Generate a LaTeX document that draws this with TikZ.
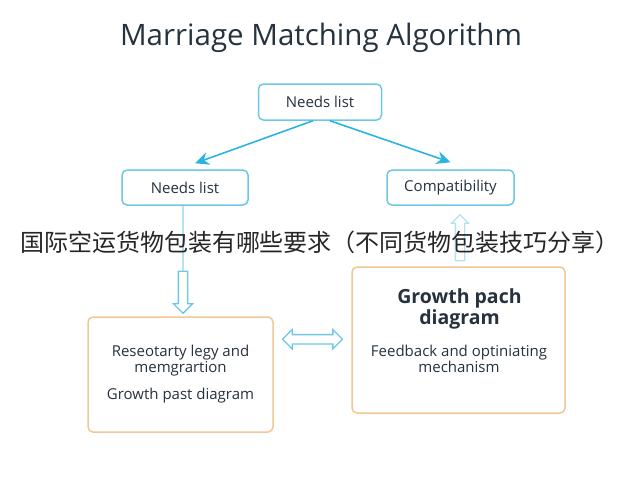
\documentclass[tikz,border=0pt]{standalone}
\usepackage{fontspec}
\setmainfont{Open Sans}
\newfontfamily\cjkfont{Noto Sans CJK SC}
\usetikzlibrary{arrows.meta, positioning, shapes.arrows, calc}
\definecolor{ccyan}{HTML}{6CC8E4}
\definecolor{carrow}{HTML}{2CB4E0}
\definecolor{cpale}{HTML}{B5E2F0}
\definecolor{corange}{HTML}{F2C796}
\definecolor{cink}{HTML}{26323D}
\tikzset{
  every picture/.style={line width=1.5pt},
  box/.style={draw=#1, fill=white, rounded corners=5pt, align=center, inner sep=0pt, text=cink},
  box/.default=ccyan,
  arrow/.style={-{Stealth[length=14pt, width=13pt]}, draw=carrow, line width=1.6pt},
  hollow/.style={draw=#1, fill=white, line width=1.3pt, single arrow, single arrow head extend=5pt, inner xsep=0pt, inner ysep=4pt},
  hollow/.default=ccyan,
  txt/.style={font=\fontsize{15}{16}\selectfont, text=cink, align=center},
}

\begin{document}
\begin{tikzpicture}[x=1pt, y=-1pt]
  \useasboundingbox (0,0) rectangle (640,480);
  \node[font=\fontsize{29.5}{34}\selectfont, text=cink] (title) at (321,38) {Marriage Matching Algorithm};
  \node[box, minimum width=123pt, minimum height=36pt, txt] (top) at (320,102) {Needs list};
  \node[box, minimum width=126pt, minimum height=35pt, txt] (needs) at (185,187.5) {Needs list};
  \node[box, minimum width=127pt, minimum height=35pt, txt] (compat) at (450.5,187.5) {Compatibility};
  \draw[arrow] ([xshift=-7pt]top.south) -- ([xshift=10pt, yshift=6pt]needs.north);
  \draw[arrow] ([xshift=10pt]top.south) -- ([yshift=7pt]compat.north);
  % hollow arrows
  \node[hollow, rotate=-90, minimum height=42pt] (down) at (183,290) {};
  \draw[cpale] ([xshift=-2pt]needs.south) -- (down.tail);
  \node[hollow=cpale, rotate=90, minimum height=46pt, single arrow head extend=4pt] (up) at (460,240) {};
  \node[font=\cjkfont\fontsize{24}{28}\selectfont, text=black!85] (banner) at (320,242) {国际空运货物包装有哪些要求（不同货物包装技巧分享）};
  % lower boxes
  \node[box=corange, minimum width=185pt, minimum height=115pt] (bl) at (180.5,374.5) {};
  \node[txt] (blt) at (180.5,361) {Reseotarty legy and\\memgrartion};
  \node[txt] (blg) at ([yshift=-35pt]blt) {Growth past diagram};
  \node[box=corange, minimum width=213pt, minimum height=146pt] (br) at (458.5,340) {};
  \node[font=\fontsize{19.5}{20.5}\selectfont\bfseries, text=cink, align=center] (brh) at (459.5,309) {Growth pach\\diagram};
  \node[txt] (brt) at (459,358.5) {Feedback and optiniating\\mechanism};
  \node[hollow, double arrow, double arrow head extend=5pt, minimum height=60pt] (link) at ($(bl.east)!0.5!(br.west)+(0,-18)$) {};
\end{tikzpicture}
\end{document}
